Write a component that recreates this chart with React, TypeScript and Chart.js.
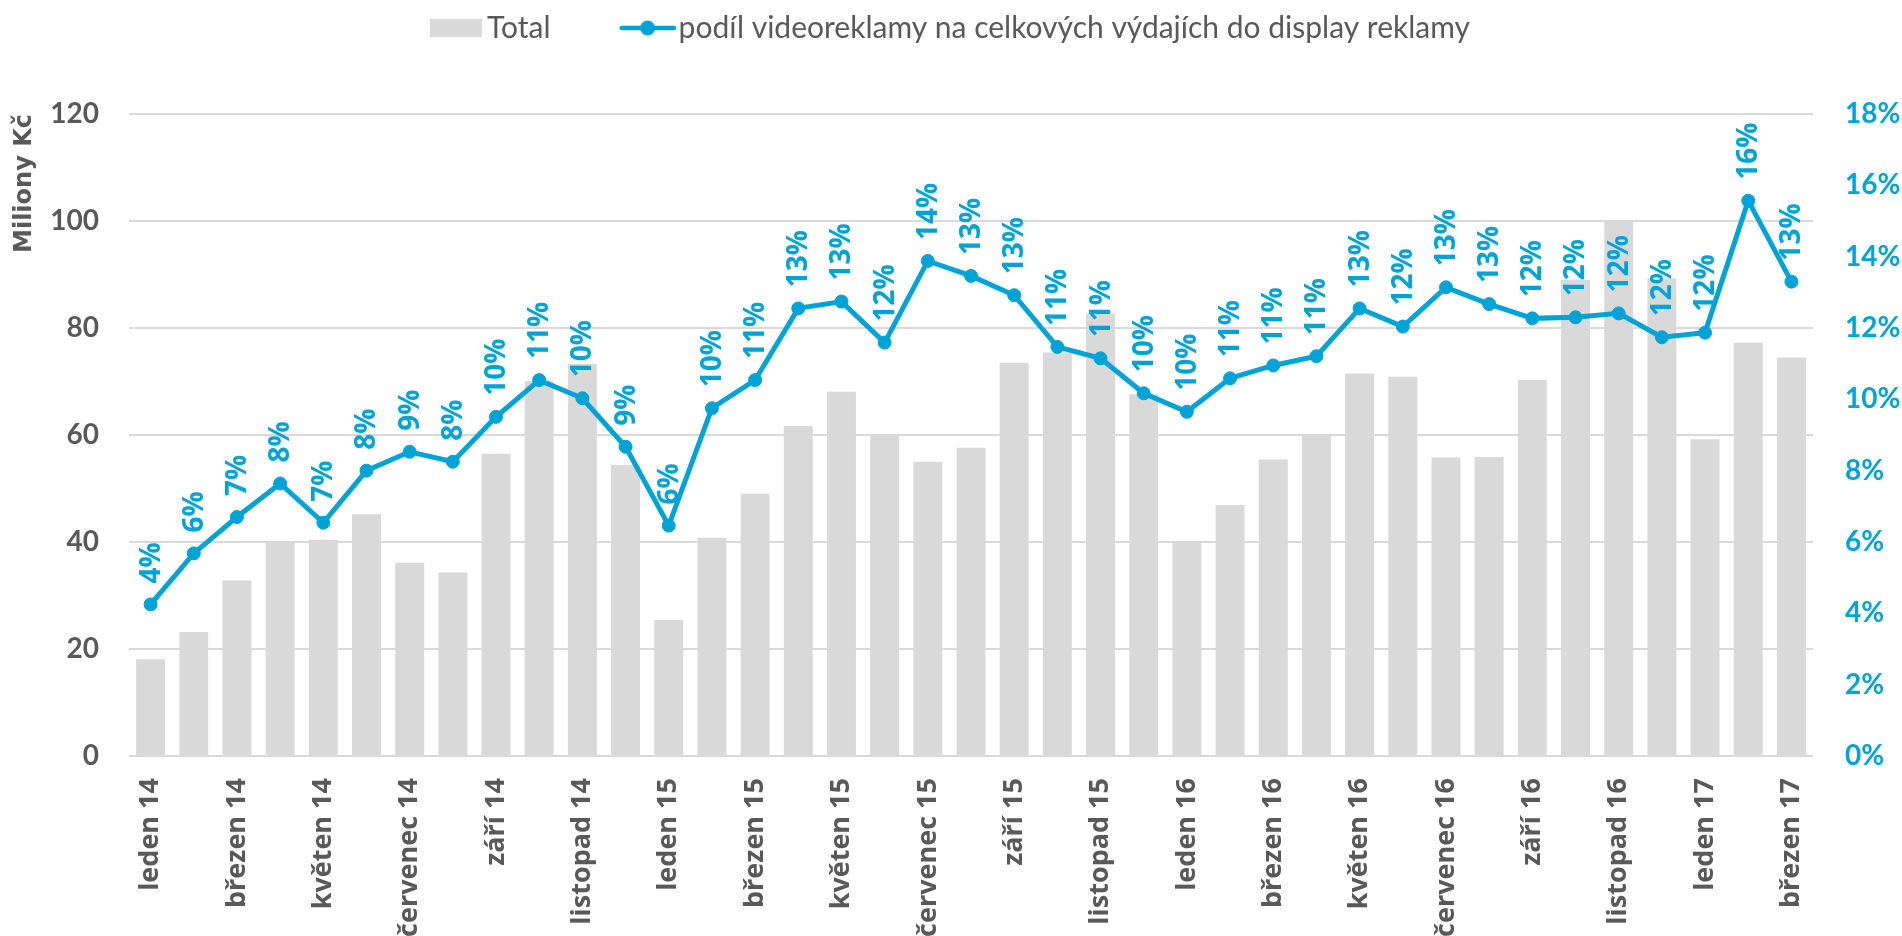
import React, { useEffect, useRef } from 'react';
import { Chart, registerables } from 'chart.js';

Chart.register(...registerables);

const categories = [
  'leden 14', 'únor 14', 'březen 14', 'duben 14', 'květen 14', 'červen 14',
  'červenec 14', 'srpen 14', 'září 14', 'říjen 14', 'listopad 14', 'prosinec 14',
  'leden 15', 'únor 15', 'březen 15', 'duben 15', 'květen 15', 'červen 15',
  'červenec 15', 'srpen 15', 'září 15', 'říjen 15', 'listopad 15', 'prosinec 15',
  'leden 16', 'únor 16', 'březen 16', 'duben 16', 'květen 16', 'červen 16',
  'červenec 16', 'srpen 16', 'září 16', 'říjen 16', 'listopad 16', 'prosinec 16',
  'leden 17', 'únor 17', 'březen 17',
];

const totals = [
  18.1, 23.2, 32.8, 40.0, 40.4, 45.2, 36.1, 34.3, 56.5, 70.1, 73.3, 54.4,
  25.4, 40.8, 49.0, 61.7, 68.1, 60.0, 55.0, 57.6, 73.5, 75.4, 82.7, 67.6,
  40.0, 46.9, 55.4, 60.2, 71.5, 70.9, 55.8, 55.9, 70.3, 89.0, 100.2, 89.3,
  59.2, 77.3, 74.5,
];

const shares = [
  4.25, 5.68, 6.70, 7.64, 6.54, 8.0, 8.53, 8.25, 9.51, 10.54, 10.03, 8.67,
  6.46, 9.75, 10.54, 12.55, 12.74, 11.59, 13.88, 13.46, 12.92, 11.47, 11.15, 10.17,
  9.65, 10.59, 10.95, 11.21, 12.55, 12.04, 13.14, 12.67, 12.27, 12.30, 12.41, 11.74,
  11.87, 15.57, 13.30,
];

const seriesNames = ['Total', 'podíl videoreklamy na celkových výdajích do display reklamy'];
const leftAxisTitle = 'Miliony Kč';

const BLUE = '#00A3D6';
const BAR_GRAY = '#D9D9D9';
const GRID = '#D9D9D9';
const TEXT = '#595959';
const TICK_FONT = 'Lato, "Open Sans", sans-serif';
const LABEL_FONT = '"Open Sans", Lato, sans-serif';
const TITLE_FONT = '"DejaVu Sans", "Open Sans", sans-serif';

const LEGEND_BOX = 100;

// Legend symbol for the bar series: grey rectangle at the right part of the image
function makeRectSymbol(): HTMLCanvasElement {
  const c = document.createElement('canvas');
  c.width = 120;
  c.height = 18;
  const g = c.getContext('2d')!;
  g.fillStyle = BAR_GRAY;
  g.fillRect(68, 0, 52, 18);
  return c;
}

// Legend symbol for the line series: line with a circle marker
function makeLineSymbol(): HTMLCanvasElement {
  const c = document.createElement('canvas');
  c.width = 124;
  c.height = 18;
  const g = c.getContext('2d')!;
  g.strokeStyle = BLUE;
  g.lineWidth = 4.5;
  g.lineCap = 'round';
  g.beginPath();
  g.moveTo(70, 9);
  g.lineTo(122, 9);
  g.stroke();
  g.fillStyle = BLUE;
  g.beginPath();
  g.arc(96, 9, 7.5, 0, Math.PI * 2);
  g.fill();
  return c;
}

const legendLayoutPlugin = {
  id: 'legendLayout',
  beforeInit(chart: any) {
    const legend = chart.legend;
    if (!legend) return;
    const origFit = legend.fit;
    legend.fit = function () {
      origFit.bind(legend)();
      this.height = 114;
    };
  },
  afterLayout(chart: any) {
    const legend = chart.legend;
    if (!legend) return;
    legend.left -= 30;
    legend.right -= 30;
  },
};

const shareLabelsPlugin = {
  id: 'shareLabels',
  afterDatasetsDraw(chart: any) {
    const meta = chart.getDatasetMeta(1);
    const ctx = chart.ctx;
    ctx.save();
    ctx.fillStyle = BLUE;
    ctx.font = `bold 28px ${LABEL_FONT}`;
    ctx.textAlign = 'left';
    ctx.textBaseline = 'middle';
    meta.data.forEach((pt: any, i: number) => {
      ctx.save();
      ctx.translate(pt.x + 1, pt.y - 21);
      ctx.rotate(-Math.PI / 2);
      ctx.fillText(Math.round(shares[i]) + '%', 0, 0);
      ctx.restore();
    });
    ctx.restore();
  },
};

export default function App() {
  const canvasRef = useRef<HTMLCanvasElement | null>(null);

  useEffect(() => {
    if (!canvasRef.current) return;
    const rectSymbol = makeRectSymbol();
    const lineSymbol = makeLineSymbol();
    const chart = new Chart(canvasRef.current, {
      type: 'bar',
      data: {
        labels: categories,
        datasets: [
          {
            type: 'bar',
            label: seriesNames[0],
            data: totals,
            backgroundColor: BAR_GRAY,
            borderWidth: 0,
            barPercentage: 0.67,
            categoryPercentage: 1.0,
            yAxisID: 'y',
            order: 2,
          } as any,
          {
            type: 'line',
            label: seriesNames[1],
            data: shares,
            borderColor: BLUE,
            backgroundColor: BLUE,
            borderWidth: 5,
            pointRadius: 6.5,
            pointBorderWidth: 1,
            pointBackgroundColor: BLUE,
            pointBorderColor: BLUE,
            tension: 0,
            yAxisID: 'y2',
            order: 1,
          } as any,
        ],
      },
      options: {
        responsive: false,
        animation: false,
        devicePixelRatio: 1,
        layout: { padding: 0 },
        plugins: {
          legend: {
            display: true,
            position: 'top',
            labels: {
              usePointStyle: true,
              pointStyleWidth: LEGEND_BOX,
              boxHeight: 18,
              padding: 13,
              color: TEXT,
              font: { family: TICK_FONT, size: 30 },
              generateLabels: () => [
                {
                  text: seriesNames[0],
                  fillStyle: BAR_GRAY,
                  strokeStyle: BAR_GRAY,
                  lineWidth: 0,
                  pointStyle: rectSymbol,
                  hidden: false,
                  datasetIndex: 0,
                  fontColor: TEXT,
                },
                {
                  text: seriesNames[1],
                  fillStyle: BLUE,
                  strokeStyle: BLUE,
                  lineWidth: 0,
                  pointStyle: lineSymbol,
                  hidden: false,
                  datasetIndex: 1,
                  fontColor: TEXT,
                },
              ] as any,
            },
          },
          tooltip: { enabled: false },
        },
        scales: {
          x: {
            grid: { display: false, drawTicks: false },
            border: { display: false },
            ticks: {
              autoSkip: false,
              maxRotation: 90,
              minRotation: 90,
              padding: 22,
              color: TEXT,
              font: { family: LABEL_FONT, size: 27, weight: 'bold' },
              callback: (_v: any, i: number) => (i % 2 === 0 ? categories[i] : ''),
            },
            afterFit: (s: any) => {
              s.height = 180;
            },
          },
          y: {
            position: 'left',
            min: 0,
            max: 120,
            ticks: {
              stepSize: 20,
              padding: 30,
              color: TEXT,
              font: { family: TICK_FONT, size: 28, weight: 'bold' },
            },
            grid: { color: GRID, lineWidth: 2, drawTicks: false },
            border: { display: false },
            title: {
              display: true,
              text: leftAxisTitle,
              align: 'end',
              color: TEXT,
              font: { family: TITLE_FONT, size: 24, weight: 'bold' },
              padding: { top: 10, bottom: 0 },
            },
            afterFit: (s: any) => {
              s.width = 129;
            },
          },
          y2: {
            position: 'right',
            min: 0,
            max: 18,
            ticks: {
              stepSize: 2,
              padding: 32,
              color: BLUE,
              font: { family: TICK_FONT, size: 28, weight: 'bold' },
              callback: (v: any) => v + '%',
            },
            grid: { display: false, drawTicks: false },
            border: { display: false },
            afterFit: (s: any) => {
              s.width = 89;
            },
          },
        },
      } as any,
      plugins: [legendLayoutPlugin, shareLabelsPlugin],
    });
    return () => chart.destroy();
  }, []);

  return (
    <div style={{ position: 'absolute', left: 0, top: 0, width: 1902, height: 936, background: '#fff' }}>
      <canvas ref={canvasRef} width={1902} height={936} style={{ display: 'block', width: 1902, height: 936 }} />
    </div>
  );
}
